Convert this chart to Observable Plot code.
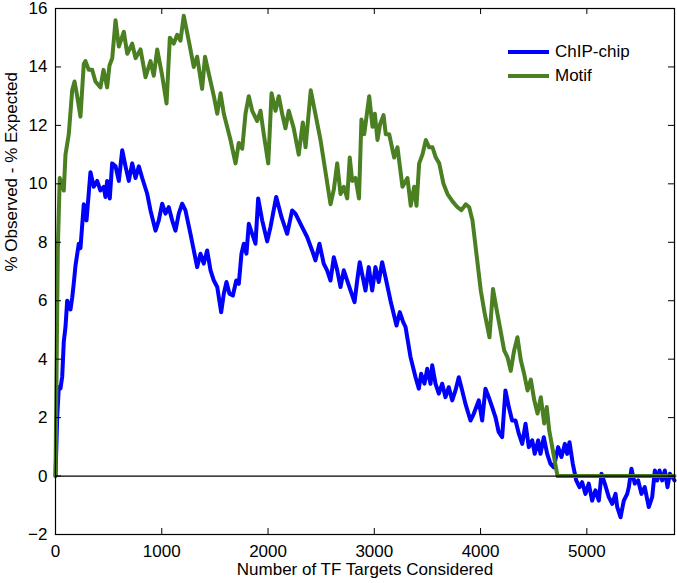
<!DOCTYPE html>
<html>
<head>
<meta charset="utf-8">
<script src="https://cdn.jsdelivr.net/npm/d3@7"></script>
<script src="https://cdn.jsdelivr.net/npm/@observablehq/plot@0.6"></script>
<style>
  body { margin: 0; background: #fff; }
  #wrap { position: relative; width: 677px; height: 583px; font-family: "Liberation Sans", Arial, Helvetica, sans-serif; }
  #legend { position: absolute; left: 508px; top: 40px; font-size: 17px; color: #000; line-height: 24px; }
  #legend .row { display: flex; align-items: center; height: 24px; }
  #legend svg { margin-right: 6px; }
</style>
</head>
<body>
<div id="wrap"><div id="legend"></div></div>
<script>
const seriesNames = ["ChIP-chip", "Motif"];
const seriesColors = ["#0000ff", "#4a7f22"];
const xTicks = [0, 1000, 2000, 3000, 4000, 5000];
const yTicks = [-2, 0, 2, 4, 6, 8, 10, 12, 14, 16];
const xLabel = "Number of TF Targets Considered";
const yLabel = "% Observed - % Expected";

const chipX = [0,16,31,47,63,78,94,110,141,157,172,188,219,235,266,292,329,360,392,423,454,470,486,511,533,565,596,628,659,690,722,753,784,816,863,894,941,972,1004,1035,1066,1098,1129,1160,1192,1223,1270,1333,1364,1395,1427,1459,1490,1522,1559,1584,1609,1637,1669,1701,1725,1750,1772,1797,1819,1851,1882,1907,1945,1992,2023,2077,2127,2180,2227,2258,2321,2368,2415,2446,2484,2524,2556,2588,2619,2651,2682,2713,2745,2776,2814,2839,2863,2917,2948,2980,3011,3042,3074,3105,3152,3209,3240,3272,3294,3341,3388,3419,3441,3472,3498,3529,3545,3576,3607,3639,3670,3701,3733,3764,3795,3827,3858,3905,3936,3983,4015,4046,4077,4109,4140,4171,4203,4234,4266,4297,4329,4360,4392,4423,4454,4486,4510,4542,4564,4595,4627,4658,4689,4730,4761,4793,4815,4837,4868,4900,4931,4956,4987,5018,5050,5081,5113,5138,5169,5207,5239,5270,5286,5317,5348,5380,5395,5420,5451,5483,5514,5545,5583,5615,5640,5662,5684,5709,5734,5759,5781,5806,5825];
const chipY = [0,2.0,3.04,3.0,3.4,4.6,5.1,6.0,5.7,6.1,6.6,7.2,7.95,7.8,9.3,8.75,10.4,9.9,10.1,9.77,9.9,9.55,10.1,9.5,10.7,10.6,10.1,11.15,10.6,10.1,10.7,10.2,10.6,10.2,9.66,9.09,8.4,8.75,9.32,8.98,9.2,8.75,8.4,8.98,9.32,9.09,8.29,7.15,7.61,7.27,7.72,7.04,6.69,6.47,5.61,6.24,6.64,6.24,6.18,6.69,6.58,7.61,7.95,7.61,8.63,8.29,7.95,9.5,8.75,8.03,8.52,9.55,8.86,8.29,9.09,8.98,8.52,8.18,7.72,7.38,7.95,7.27,7.04,6.69,7.49,7.04,6.47,7.04,6.69,6.35,5.95,6.69,7.32,6.35,7.15,6.35,7.15,6.64,7.32,6.81,6.01,5.15,5.61,5.27,5.1,4.07,3.38,2.99,3.5,3.16,3.67,3.16,3.79,3.16,2.82,3.16,2.7,3.04,2.59,2.93,3.38,2.93,2.47,1.9,2.13,2.59,1.9,2.99,2.7,2.36,2.02,1.5,1.33,2.93,2.36,1.9,1.9,1.45,1.1,1.79,0.99,1.22,0.76,1.22,0.76,1.33,0.76,0.42,0.3,0.99,0.65,1.1,0.76,1.16,0.42,-0.15,-0.38,-0.21,-0.61,-0.26,-0.84,-0.49,-0.84,0.08,-0.26,-0.72,-0.95,-0.61,-1.06,-1.41,-0.84,-0.61,-0.38,0.25,-0.26,-0.15,-0.61,-0.38,-1.06,-0.72,0.19,-0.15,0.19,-0.15,0.19,-0.38,0.08,-0.04,-0.15];

const motifX = [0,22,40,78,94,125,157,179,204,235,266,282,313,345,376,423,452,486,508,534,565,596,643,675,722,753,800,847,894,925,957,1004,1045,1076,1113,1145,1176,1207,1254,1301,1333,1380,1407,1459,1490,1522,1553,1584,1647,1694,1725,1757,1788,1819,1851,1898,1929,1960,2002,2033,2070,2101,2133,2164,2195,2242,2289,2327,2353,2402,2494,2588,2619,2651,2682,2713,2745,2769,2792,2823,2856,2879,2905,2952,2983,3005,3030,3055,3087,3108,3140,3187,3218,3265,3312,3343,3375,3397,3422,3453,3485,3516,3548,3579,3611,3651,3689,3736,3783,3820,3861,3893,3924,4002,4037,4084,4117,4156,4187,4222,4253,4284,4316,4347,4379,4410,4442,4473,4505,4536,4567,4599,4623,4646,4724,5825];
const motifY = [0,7.8,10.2,9.77,11.0,11.7,13.2,13.5,13.0,12.3,14.1,14.2,13.9,13.9,13.5,13.3,13.9,13.3,14.05,14.3,15.6,14.7,15.2,14.45,14.8,14.3,14.6,13.65,14.2,13.7,14.6,13.7,12.75,15.0,14.8,15.1,14.9,15.75,14.9,14.0,14.35,13.25,14.35,13.5,13.0,12.4,13.1,12.4,11.5,10.7,11.4,11.2,12.4,13.0,12.5,12.15,12.5,11.7,10.7,13.1,12.5,13.0,12.4,11.9,12.5,11.9,11.0,12.1,11.25,13.2,11.5,9.3,9.8,10.7,9.65,9.9,9.5,10.9,10.1,10.2,9.5,12.2,11.7,13.0,11.95,12.4,11.5,12.05,12.35,11.7,11.7,10.9,11.25,9.9,10.2,9.25,9.9,9.25,10.7,11.0,11.5,11.25,11.25,10.9,10.7,10.0,9.65,9.4,9.2,9.1,9.3,9.2,8.75,6.35,5.6,4.75,6.4,5.6,5.0,4.3,4.07,3.6,4.3,4.75,3.96,3.5,2.93,3.3,2.6,2.14,2.7,1.8,2.36,1.56,0,0];

const W = 677, H = 583, mL = 55, mR = 3, mT = 8, mB = 49;
const innerW = W - mL - mR, innerH = H - mT - mB;
const font = "'Liberation Sans', Arial, Helvetica, sans-serif";

const chart = Plot.plot({
  width: W, height: H,
  marginLeft: mL, marginRight: mR, marginTop: mT, marginBottom: mB,
  style: {fontFamily: font, fontSize: "17px", color: "#000", background: "#fff"},
  x: {domain: [0, 5825]},
  y: {domain: [-2, 16]},
  marks: [
    Plot.line(chipX.map((_, i) => i), {x: i => chipX[i], y: i => chipY[i], stroke: seriesColors[0], strokeWidth: 4, strokeLinejoin: "round"}),
    Plot.line(motifX.map((_, i) => i), {x: i => motifX[i], y: i => motifY[i], stroke: seriesColors[1], strokeWidth: 4, strokeLinejoin: "round"}),
    Plot.ruleY([0], {stroke: "#000", strokeWidth: 1.3}),
    Plot.frame({stroke: "#000", strokeWidth: 1.2}),
    Plot.ruleX(xTicks, {x: d => d, insetTop: innerH - 6, stroke: "#000"}),
    Plot.ruleX(xTicks, {x: d => d, insetBottom: innerH - 6, stroke: "#000"}),
    Plot.ruleY(yTicks, {y: d => d, insetRight: innerW - 6, stroke: "#000"}),
    Plot.ruleY(yTicks, {y: d => d, insetLeft: innerW - 6, stroke: "#000"}),
    Plot.axisX({ticks: xTicks, tickSize: 0, tickPadding: 10, label: null, tickFormat: d => String(d), fontSize: 17}),
    Plot.axisY({ticks: yTicks, tickSize: 0, tickPadding: 8, label: null, tickFormat: d3.format("d"), fontSize: 17}),
    Plot.text([xLabel], {frameAnchor: "bottom", dy: 40, fontSize: 17, fill: "#000"}),
    Plot.text([yLabel], {frameAnchor: "left", rotate: -90, dx: -44, fontSize: 17, fill: "#000"})
  ]
});
document.getElementById("wrap").prepend(chart);

const legend = document.getElementById("legend");
seriesNames.forEach((name, i) => {
  const row = document.createElement("div");
  row.className = "row";
  row.innerHTML = `<svg width="41" height="8"><line x1="0" y1="4" x2="41" y2="4" stroke="${seriesColors[i]}" stroke-width="4"/></svg><span>${name}</span>`;
  legend.appendChild(row);
});
</script>
</body>
</html>
